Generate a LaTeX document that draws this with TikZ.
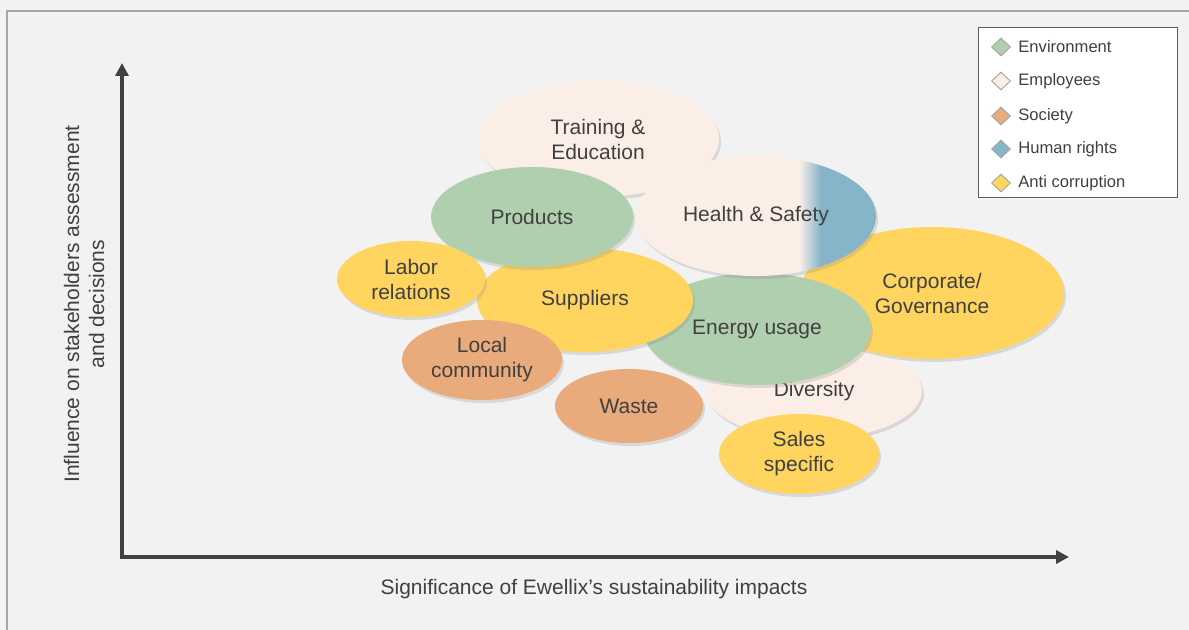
\documentclass[tikz,border=0pt]{standalone}
\usepackage{fontspec}
\setmainfont{Liberation Sans}
\usepackage{xcolor}
\definecolor{bggray}{RGB}{242,242,242}
\definecolor{framegray}{RGB}{166,166,166}
\definecolor{axisgray}{RGB}{64,64,64}
\definecolor{textgray}{RGB}{64,64,64}
\definecolor{envgreen}{RGB}{176,207,175}
\definecolor{emppink}{RGB}{251,238,231}
\definecolor{socorange}{RGB}{233,170,124}
\definecolor{hrblue}{RGB}{134,180,200}
\definecolor{acyellow}{RGB}{255,213,95}
\usepackage{tikz}
\usetikzlibrary{arrows.meta}
\usetikzlibrary{shapes.geometric}
\usetikzlibrary{shadows}
\newcommand{\bubblefont}{\fontsize{10.5}{12.5}\selectfont}
\newcommand{\keyfont}{\fontsize{8.3}{10}\selectfont}
\pgfdeclarehorizontalshading{healthshade}{100bp}{color(0bp)=(emppink); color(59bp)=(emppink); color(63.5bp)=(hrblue); color(100bp)=(hrblue)}
\tikzset{
    bubble/.style={ellipse, inner sep=0pt, align=center, text=textgray, font=\bubblefont,
        drop shadow={opacity=0.22, shadow xshift=1pt, shadow yshift=-1.5pt}},
    radii/.style 2 args={minimum width=#1pt, minimum height=#2pt},
    env/.style={bubble, fill=envgreen},
    emp/.style={bubble, fill=emppink},
    soc/.style={bubble, fill=socorange},
    anti/.style={bubble, fill=acyellow},
    hsfill/.style={bubble, shade, shading=healthshade},
    axisline/.style={draw=axisgray, line width=2pt, line join=miter,
        arrows={Triangle[length=6.5pt,width=6.5pt]-Triangle[length=6.5pt,width=6.5pt]}},
    axislabel/.style={text=textgray, font=\bubblefont, align=center},
    keybox/.style={draw=axisgray!85, fill=white, line width=0.5pt, minimum width=99.5pt, minimum height=85pt},
    keydiamond/.style={diamond, draw=framegray, line width=0.5pt, inner sep=0pt, minimum width=9.5pt, minimum height=9pt},
    keytext/.style={anchor=west, text=textgray, font=\keyfont, inner sep=0pt}
}

\begin{document}
\begin{tikzpicture}[x=0.5pt, y=-0.5pt]
    \useasboundingbox (0,0) rectangle (1189,630);
    \fill[bggray] (0,0) rectangle (1189,630);
    \draw[framegray, line width=1pt] (7,630) |- (1189,11);

    % axes
    \coordinate (ytip) at (122,63);
    \coordinate (xtip) at (1069,557);
    \draw[axisline] (ytip) |- (xtip);
    \node[axislabel] (xlabel) at (594,589) {Significance of Ewellix’s sustainability impacts};
    \node[axislabel, rotate=90] (ylabel) at (84,304) {Influence on stakeholders assessment\\and decisions};

    % bubbles, back to front
    \node[emp, radii={121}{58}] (training) at (598,139) {Training \&\\Education};
    \node[emp, radii={108}{48}] (diversity) at (814,391) {Diversity};
    \node[anti, radii={132}{66}] (governance) at (932,293) {Corporate/\\Governance};
    \node[env, radii={114}{56}] (energy) at (757,329) {Energy usage};
    \node[anti, radii={108}{52}] (suppliers) at (585,300) {Suppliers};
    \node[hsfill, radii={120}{60}] (health) at (756,216) {Health \& Safety};
    \node[env, radii={101}{50}] (products) at (532,217) {Products};
    \node[anti, radii={74}{38}] (labor) at (411,279) {Labor\\relations};
    \node[soc, radii={80}{40}] (community) at (482,360) {Local\\community};
    \node[soc, radii={74}{37}] (waste) at (629,406) {Waste};
    \node[anti, radii={80}{40}] (sales) at (799,454) {Sales\\specific};

    % legend
    \node[keybox] (key) at (1077.5,113) {};
    \path
        (1001,47) node[keydiamond, fill=envgreen] (key-env) {}
        ++(17,0) node[keytext] (key-env-text) {Environment}
        ++(-17,34) node[keydiamond, fill=emppink] (key-emp) {}
        ++(17,0) node[keytext] (key-emp-text) {Employees}
        ++(-17,35) node[keydiamond, fill=socorange] (key-soc) {}
        ++(17,0) node[keytext] (key-soc-text) {Society}
        ++(-17,33) node[keydiamond, fill=hrblue] (key-hr) {}
        ++(17,0) node[keytext] (key-hr-text) {Human rights}
        ++(-17,34) node[keydiamond, fill=acyellow] (key-anti) {}
        ++(17,0) node[keytext] (key-anti-text) {Anti corruption};
\end{tikzpicture}
\end{document}
